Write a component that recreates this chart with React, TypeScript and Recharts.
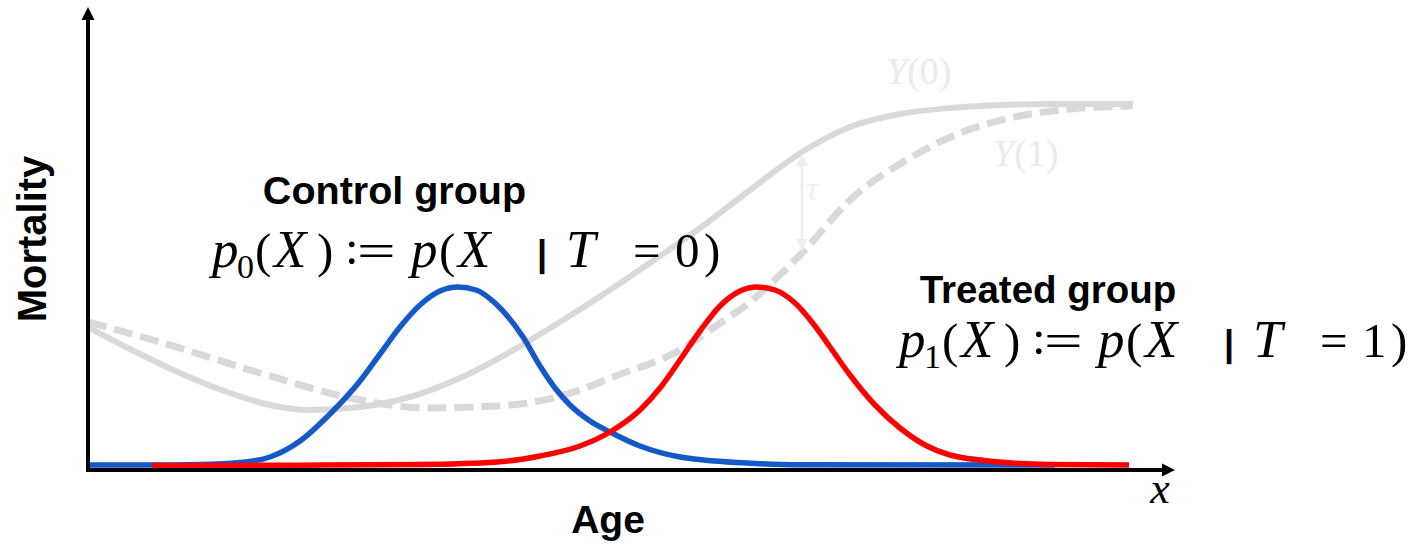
import React from 'react';
import { ComposedChart, Line, XAxis, YAxis, ReferenceLine } from 'recharts';

const W = 1421;
const H = 545;
const X_MAX = 108.7;
const Y_MAX = 46.3;

// Control group density p0(X)
const controlAge = [0, 6.2, 11.2, 15.2, 18.2, 21.2, 24.2, 27.2, 29.2, 31.2, 33.2, 35.2, 37.0, 38.8, 40.7, 43.5, 45.2, 46.7, 48.2, 50.2, 52.2, 55.2, 59.2, 65.9, 71.2, 96.7];
const controlDensity = [0.5, 0.5, 0.55, 0.75, 1.3, 2.9, 5.6, 8.9, 11.6, 14.3, 16.5, 17.9, 18.3, 18.0, 16.7, 13.3, 10.4, 8.2, 6.5, 4.9, 3.8, 2.4, 1.3, 0.7, 0.52, 0.5];

// Treated group density p1(X)
const treatedAge = [6.4, 21.2, 33.2, 40.9, 45.2, 49.2, 52.2, 55.2, 57.2, 59.2, 61.2, 63.2, 65.2, 66.9, 68.7, 70.7, 72.7, 74.2, 76.2, 78.7, 81.2, 83.7, 86.2, 91.2, 96.2, 104.1];
const treatedDensity = [0.45, 0.48, 0.55, 0.8, 1.4, 2.4, 3.8, 6.0, 8.2, 11.0, 13.9, 16.4, 17.9, 18.3, 18.0, 16.7, 14.4, 12.3, 9.5, 6.5, 4.2, 2.5, 1.5, 0.8, 0.55, 0.5];

// Potential outcome Y(0)
const y0Age = [0, 4.2, 9.2, 14.2, 18.2, 22.2, 27.2, 32.2, 37.2, 42.2, 47.2, 52.2, 57.2, 61.2, 66.2, 71.4, 76.2, 81.2, 86.2, 91.2, 97.2, 104.5];
const y0Mortality = [14.3, 12.1, 9.7, 7.7, 6.5, 6.0, 6.3, 7.3, 9.2, 11.8, 14.8, 18.0, 21.4, 24.2, 28.0, 31.8, 34.3, 35.6, 36.2, 36.5, 36.6, 36.6];

// Potential outcome Y(1)
const y1Age = [0, 7.2, 17.2, 27.2, 33.9, 42.2, 49.2, 52.5, 59.2, 62.5, 66.2, 69.5, 71.4, 76.2, 82.2, 87.2, 92.2, 97.2, 104.5];
const y1Mortality = [14.8, 12.8, 9.7, 7.0, 6.2, 6.5, 8.0, 9.3, 12.0, 14.2, 16.8, 19.8, 21.7, 27.0, 31.2, 33.7, 35.2, 36.0, 36.4];

// Treatment effect tau marker
const tauAge = 71.4;
const tauLow = 21.9;
const tauHigh = 31.6;

const zip = (xs: number[], ys: number[]) => xs.map((x, i) => ({ x, y: ys[i] }));

const controlData = zip(controlAge, controlDensity);
const treatedData = zip(treatedAge, treatedDensity);
const y0Data = zip(y0Age, y0Mortality);
const y1Data = zip(y1Age, y1Mortality);

const makeArrow = (color: string, width: number, L: number, h: number, both: boolean, extendStart: number) => (props: any) => {
  const { x1, y1, x2, y2 } = props;
  const dx = x2 - x1;
  const dy = y2 - y1;
  const len = Math.hypot(dx, dy) || 1;
  const ux = dx / len;
  const uy = dy / len;
  const px = -uy;
  const py = ux;
  const endHead = `${x2},${y2} ${x2 - ux * L + px * h},${y2 - uy * L + py * h} ${x2 - ux * L - px * h},${y2 - uy * L - py * h}`;
  const startHead = `${x1},${y1} ${x1 + ux * L + px * h},${y1 + uy * L + py * h} ${x1 + ux * L - px * h},${y1 + uy * L - py * h}`;
  const sx = both ? x1 + ux * L * 0.8 : x1 - ux * extendStart;
  const sy = both ? y1 + uy * L * 0.8 : y1 - uy * extendStart;
  const ex = x2 - ux * L * 0.8;
  const ey = y2 - uy * L * 0.8;
  return (
    <g>
      <line x1={sx} y1={sy} x2={ex} y2={ey} stroke={color} strokeWidth={width} />
      <polygon points={endHead} fill={color} />
      {both && <polygon points={startHead} fill={color} />}
    </g>
  );
};

const AxisArrow = makeArrow('#000', 4, 13, 6.5, false, 2);
const TauArrow = makeArrow('#eeeeee', 2.5, 12, 6, true, 0);

const MATH = "'Liberation Serif', 'Times New Roman', serif";
const SANS = "'Liberation Sans', Arial, Helvetica, sans-serif";

function Formula({ x, y, digit }: { x: number; y: number; digit: string }) {
  const it = 53;
  return (
    <g fontFamily={MATH} fontSize={49} fill="#000">
      <text x={x - 2} y={y} fontStyle="italic" fontSize={it}>p</text>
      <text x={x + 23} y={y + 11} fontSize={34}>{digit}</text>
      <text x={x + 41} y={y}>(</text>
      <text x={x + 60} y={y} fontStyle="italic" fontSize={it}>X</text>
      <text x={x + 103} y={y}>)</text>
      <text x={x + 131} y={y - 3}>:</text>
      <text transform={`translate(${x + 143},${y}) scale(1.4,1)`}>=</text>
      <text x={x + 197} y={y} fontStyle="italic" fontSize={it}>p</text>
      <text x={x + 225} y={y}>(</text>
      <text x={x + 244} y={y} fontStyle="italic" fontSize={it}>X</text>
      <text x={x + 323} y={y - 1} fontFamily={SANS} fontWeight="bold" fontSize={36}>|</text>
      <text x={x + 352} y={y} fontStyle="italic" fontSize={it}>T</text>
      <text x={x + 419} y={y}>=</text>
      <text x={x + 461} y={y}>{digit}</text>
      <text x={x + 490} y={y}>)</text>
    </g>
  );
}

export default function App() {
  return (
    <div style={{ position: 'absolute', left: 0, top: 0, width: W, height: H, background: '#fff' }}>
      <ComposedChart width={W} height={H} margin={{ top: 7, right: W - 1175, bottom: H - 470, left: 88 }}>
        <XAxis type="number" dataKey="x" domain={[0, X_MAX]} allowDataOverflow hide />
        <YAxis type="number" domain={[0, Y_MAX]} allowDataOverflow hide />
        <Line data={y0Data} dataKey="y" type="monotone" stroke="#d9d9d9" strokeWidth={6} dot={false} activeDot={false} isAnimationActive={false} />
        <Line data={y1Data} dataKey="y" type="monotone" stroke="#d9d9d9" strokeWidth={7} strokeDasharray="19 8" dot={false} activeDot={false} isAnimationActive={false} />
        <Line data={controlData} dataKey="y" type="monotone" stroke="#1558c8" strokeWidth={5.5} dot={false} activeDot={false} isAnimationActive={false} />
        <Line data={treatedData} dataKey="y" type="monotone" stroke="#ff0000" strokeWidth={5.5} dot={false} activeDot={false} isAnimationActive={false} />
        <ReferenceLine segment={[{ x: 0, y: 0 }, { x: X_MAX, y: 0 }]} ifOverflow="visible" shape={AxisArrow} />
        <ReferenceLine segment={[{ x: 0, y: 0 }, { x: 0, y: Y_MAX }]} ifOverflow="visible" shape={AxisArrow} />
        <ReferenceLine segment={[{ x: tauAge, y: tauLow }, { x: tauAge, y: tauHigh }]} ifOverflow="visible" shape={TauArrow} />
      </ComposedChart>
      <svg width={W} height={H} style={{ position: 'absolute', left: 0, top: 0, pointerEvents: 'none' }}>
        <text x={394.5} y={204} textAnchor="middle" fontFamily={SANS} fontWeight="bold" fontSize={39.5} fill="#000">Control group</text>
        <Formula x={214} y={267} digit="0" />
        <text x={1048} y={303} textAnchor="middle" fontFamily={SANS} fontWeight="bold" fontSize={38.5} fill="#000">Treated group</text>
        <Formula x={901} y={357} digit="1" />
        <g fontFamily={MATH} fontSize={38} fill="#ebebeb">
          <text x={886} y={84}><tspan fontStyle="italic">Y</tspan>(0)</text>
          <text x={993} y={166}><tspan fontStyle="italic">Y</tspan>(1)</text>
        </g>
        <text x={806} y={200} fontFamily={MATH} fontStyle="italic" fontSize={34} fill="#eeeeee">τ</text>
        <text transform="translate(46,239) rotate(-90)" textAnchor="middle" fontFamily={SANS} fontWeight="bold" fontSize={40} fill="#000">Mortality</text>
        <text x={608} y={533} textAnchor="middle" fontFamily={SANS} fontWeight="bold" fontSize={39} fill="#000">Age</text>
        <text x={1160} y={503} textAnchor="middle" fontFamily={MATH} fontStyle="italic" fontSize={44} fill="#000">x</text>
      </svg>
    </div>
  );
}
